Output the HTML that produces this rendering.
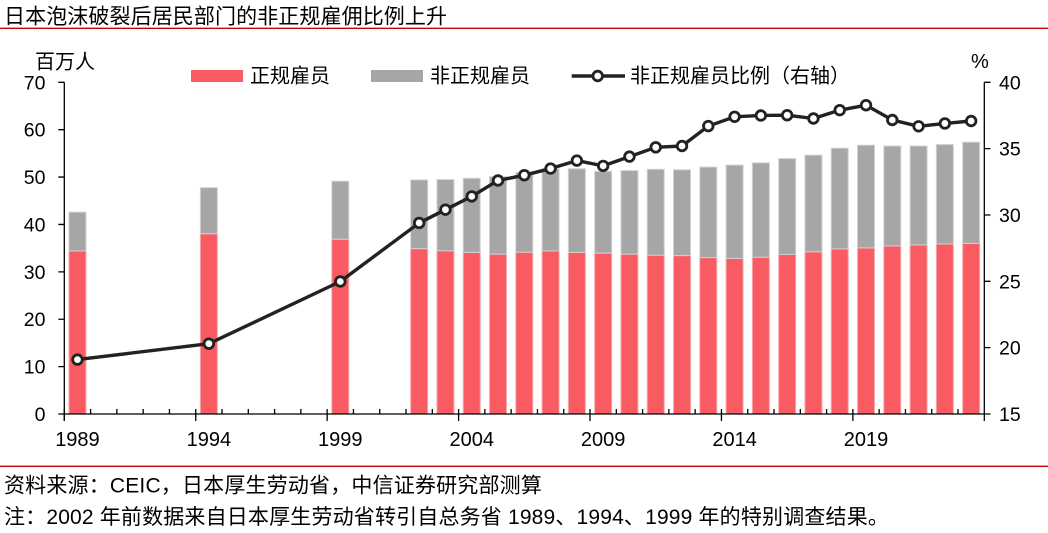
<!DOCTYPE html>
<html><head><meta charset="utf-8"><style>
html,body{margin:0;padding:0;background:#fff;}
svg{display:block;}
text{font-family:"Liberation Sans","Noto Sans CJK SC",sans-serif;fill:#000;}
</style></head><body>
<svg width="1048" height="533" viewBox="0 0 1048 533" xmlns="http://www.w3.org/2000/svg">
<rect width="1048" height="533" fill="#fff"/>
<text x="4" y="23.4" font-size="21" letter-spacing="0.1">日本泡沫破裂后居民部门的非正规雇佣比例上升</text>
<line x1="0" y1="28.3" x2="1048" y2="28.3" stroke="#C8000A" stroke-width="1.3"/>
<line x1="0" y1="466.3" x2="1048" y2="466.3" stroke="#C8000A" stroke-width="1.3"/>
<text x="4" y="492.3" font-size="21" letter-spacing="0.18">资料来源：CEIC，日本厚生劳动省，中信证券研究部测算</text>
<text x="4" y="523.9" font-size="21" letter-spacing="0.17">注：2002 年前数据来自日本厚生劳动省转引自总务省 1989、1994、1999 年的特别调查结果。</text>

<!-- legend -->
<text x="35" y="68.7" font-size="20">百万人</text>
<rect x="191" y="70" width="52" height="12" fill="#F95B63"/>
<text x="250" y="82.7" font-size="20">正规雇员</text>
<rect x="371" y="70" width="52" height="12" fill="#A6A6A6"/>
<text x="430" y="82.7" font-size="20">非正规雇员</text>
<line x1="571.7" y1="76" x2="625" y2="76" stroke="#222" stroke-width="3.4"/>
<circle cx="597.7" cy="76" r="4.8" fill="#fff" stroke="#222" stroke-width="2.8"/>
<text x="630" y="82.7" font-size="20">非正规雇员比例（右轴）</text>
<text x="971" y="68" font-size="20">%</text>

<!-- bars -->
<g stroke-width="1">
<g fill="#F95B63" stroke="#FBA9AD">
<rect x="68.94" y="250.99" width="17" height="163.01"/>
<rect x="200.37" y="233.70" width="17" height="180.30"/>
<rect x="331.8" y="239.24" width="17" height="174.76"/>
<rect x="410.66" y="248.67" width="17" height="165.33"/>
<rect x="436.94" y="250.80" width="17" height="163.20"/>
<rect x="463.23" y="252.41" width="17" height="161.59"/>
<rect x="489.51" y="254.12" width="17" height="159.88"/>
<rect x="515.80" y="252.18" width="17" height="161.82"/>
<rect x="542.09" y="250.95" width="17" height="163.05"/>
<rect x="568.37" y="252.41" width="17" height="161.59"/>
<rect x="594.66" y="253.12" width="17" height="160.88"/>
<rect x="620.94" y="254.12" width="17" height="159.88"/>
<rect x="647.23" y="255.16" width="17" height="158.84"/>
<rect x="673.51" y="255.6" width="17" height="158.4"/>
<rect x="699.80" y="257.6" width="17" height="156.4"/>
<rect x="726.09" y="258.4" width="17" height="155.6"/>
<rect x="752.37" y="257.2" width="17" height="156.8"/>
<rect x="778.66" y="254.4" width="17" height="159.6"/>
<rect x="804.94" y="251.8" width="17" height="162.2"/>
<rect x="831.23" y="248.9" width="17" height="165.1"/>
<rect x="857.51" y="247.9" width="17" height="166.1"/>
<rect x="883.80" y="246.0" width="17" height="168.0"/>
<rect x="910.09" y="244.9" width="17" height="169.1"/>
<rect x="936.37" y="244.0" width="17" height="170.0"/>
<rect x="962.66" y="243.3" width="17" height="170.7"/>
</g>
<g fill="#A6A6A6" stroke="#D2D2D2">
<rect x="68.94" y="212.14" width="17" height="38.85"/>
<rect x="200.37" y="187.68" width="17" height="46.02"/>
<rect x="331.8" y="181.19" width="17" height="58.05"/>
<rect x="410.66" y="179.91" width="17" height="68.76"/>
<rect x="436.94" y="179.53" width="17" height="71.27"/>
<rect x="463.23" y="178.30" width="17" height="74.11"/>
<rect x="489.51" y="176.69" width="17" height="77.43"/>
<rect x="515.80" y="172.66" width="17" height="79.52"/>
<rect x="542.09" y="168.87" width="17" height="82.08"/>
<rect x="568.37" y="168.78" width="17" height="83.63"/>
<rect x="594.66" y="171.29" width="17" height="81.83"/>
<rect x="620.94" y="170.58" width="17" height="83.54"/>
<rect x="647.23" y="169.30" width="17" height="85.86"/>
<rect x="673.51" y="169.8" width="17" height="85.8"/>
<rect x="699.80" y="167.1" width="17" height="90.5"/>
<rect x="726.09" y="165.1" width="17" height="93.3"/>
<rect x="752.37" y="162.8" width="17" height="94.4"/>
<rect x="778.66" y="158.6" width="17" height="95.8"/>
<rect x="804.94" y="155.2" width="17" height="96.6"/>
<rect x="831.23" y="148.2" width="17" height="100.7"/>
<rect x="857.51" y="145.2" width="17" height="102.7"/>
<rect x="883.80" y="146.0" width="17" height="100.0"/>
<rect x="910.09" y="146.0" width="17" height="98.9"/>
<rect x="936.37" y="144.5" width="17" height="99.5"/>
<rect x="962.66" y="142.2" width="17" height="101.1"/>
</g>
</g>

<!-- axes -->
<g stroke="#000" stroke-width="1.3" fill="none">
<line x1="64.3" y1="82.3" x2="64.3" y2="421"/>
<line x1="984.3" y1="82.3" x2="984.3" y2="421"/>
<line x1="58.3" y1="414" x2="990.5" y2="414"/>
<path d="M58.3 82.3H64.3M58.3 129.68H64.3M58.3 177.07H64.3M58.3 224.46H64.3M58.3 271.84H64.3M58.3 319.23H64.3M58.3 366.61H64.3"/>
<path d="M984.3 82.3H990.5M984.3 148.64H990.5M984.3 214.98H990.5M984.3 281.32H990.5M984.3 347.66H990.5"/>
<path d="M195.73 409V421M327.16 409V421M458.59 409V421M590.01 409V421M721.44 409V421M852.87 409V421M64.3 409V421"/>
<path d="M90.59 409V414M116.87 409V414M143.16 409V414M169.44 409V414M222.01 409V414M248.30 409V414M274.59 409V414M300.87 409V414M353.44 409V414M379.73 409V414M406.01 409V414M432.30 409V414M484.87 409V414M511.16 409V414M537.44 409V414M563.73 409V414M616.30 409V414M642.59 409V414M668.87 409V414M695.16 409V414M747.73 409V414M774.01 409V414M800.30 409V414M826.59 409V414M879.16 409V414M905.44 409V414M931.73 409V414M958.01 409V414"/>
</g>

<!-- left labels -->
<g font-size="19.5" text-anchor="end">
<text x="45.5" y="89.3">70</text>
<text x="45.5" y="136.7">60</text>
<text x="45.5" y="184.1">50</text>
<text x="45.5" y="231.5">40</text>
<text x="45.5" y="278.8">30</text>
<text x="45.5" y="326.2">20</text>
<text x="45.5" y="373.6">10</text>
<text x="45.5" y="421">0</text>
</g>
<!-- right labels -->
<g font-size="19.5">
<text x="999" y="89.3">40</text>
<text x="999" y="155.6">35</text>
<text x="999" y="222">30</text>
<text x="999" y="288.3">25</text>
<text x="999" y="354.7">20</text>
<text x="999" y="421">15</text>
</g>
<!-- x labels -->
<g font-size="20" text-anchor="middle">
<text x="77.44" y="446">1989</text>
<text x="208.87" y="446">1994</text>
<text x="340.3" y="446">1999</text>
<text x="471.73" y="446">2004</text>
<text x="603.16" y="446">2009</text>
<text x="734.59" y="446">2014</text>
<text x="866.01" y="446">2019</text>
</g>

<!-- line -->
<polyline fill="none" stroke="#222" stroke-width="3.4" stroke-linejoin="round" points="77.44,359.6 208.87,343.68 340.3,281.5 419.16,222.94 445.44,209.67 471.73,196.40 498.01,180.48 524.30,175.18 550.59,168.54 576.87,160.58 603.16,165.89 629.44,156.60 655.73,147.31 682.01,145.99 708.30,126.08 734.59,116.8 760.87,115.47 787.16,115.2 813.44,118.5 839.73,110.16 866.01,105.2 892.30,120.0 918.59,126.3 944.87,123.43 971.16,121.0"/>
<g fill="#fff" stroke="#222" stroke-width="2.8">
<circle cx="77.44" cy="359.6" r="4.8"/>
<circle cx="208.87" cy="343.68" r="4.8"/>
<circle cx="340.3" cy="281.5" r="4.8"/>
<circle cx="419.16" cy="222.94" r="4.8"/>
<circle cx="445.44" cy="209.67" r="4.8"/>
<circle cx="471.73" cy="196.40" r="4.8"/>
<circle cx="498.01" cy="180.48" r="4.8"/>
<circle cx="524.30" cy="175.18" r="4.8"/>
<circle cx="550.59" cy="168.54" r="4.8"/>
<circle cx="576.87" cy="160.58" r="4.8"/>
<circle cx="603.16" cy="165.89" r="4.8"/>
<circle cx="629.44" cy="156.60" r="4.8"/>
<circle cx="655.73" cy="147.31" r="4.8"/>
<circle cx="682.01" cy="145.99" r="4.8"/>
<circle cx="708.30" cy="126.08" r="4.8"/>
<circle cx="734.59" cy="116.8" r="4.8"/>
<circle cx="760.87" cy="115.47" r="4.8"/>
<circle cx="787.16" cy="115.2" r="4.8"/>
<circle cx="813.44" cy="118.5" r="4.8"/>
<circle cx="839.73" cy="110.16" r="4.8"/>
<circle cx="866.01" cy="105.2" r="4.8"/>
<circle cx="892.30" cy="120.0" r="4.8"/>
<circle cx="918.59" cy="126.3" r="4.8"/>
<circle cx="944.87" cy="123.43" r="4.8"/>
<circle cx="971.16" cy="121.0" r="4.8"/>
</g>
</svg>
</body></html>
